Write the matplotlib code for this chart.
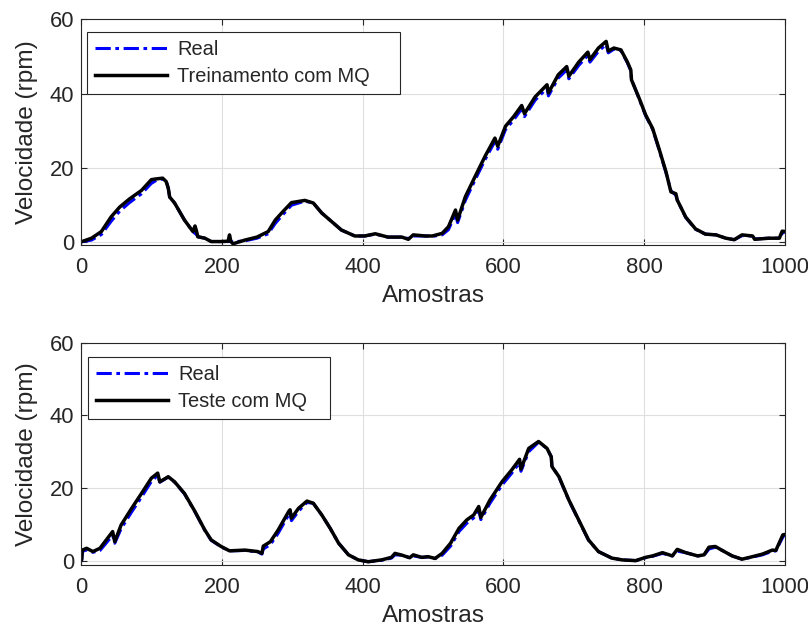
import matplotlib
matplotlib.use("Agg")
import matplotlib.pyplot as plt

plt.rcParams['font.family'] = ['Liberation Sans', 'DejaVu Sans']

COR_TEXTO = '#262626'

# --- treinamento (amostras 0..1000) ---
amostras_trein = [0, 15, 29, 43, 55, 69, 86, 100, 107, 116,
                  121, 124, 126, 133, 147, 159, 162, 164, 166, 176,
                  185, 199, 209, 211, 213, 216, 233, 250, 266, 276,
                  287, 299, 318, 330, 342, 356, 370, 389, 403, 418,
                  436, 456, 465, 472, 489, 499, 513, 522, 532, 535,
                  546, 560, 574, 588, 592, 603, 615, 626, 630, 645,
                  662, 664, 678, 690, 693, 707, 720, 723, 735, 746,
                  749, 757, 767, 776, 781, 782, 793, 802, 812, 821,
                  831, 838, 845, 847, 859, 873, 887, 902, 916, 928,
                  939, 954, 957, 977, 992, 996, 1000]

real_trein = [0.0, 0.5, 2.0, 5.6, 8.3, 10.6, 13.0, 15.8, 16.6, 17.0,
              16.5, 14.5, 12.1, 10.5, 5.9, 2.8, 2.3, 2.0, 1.4, 1.0,
              0.1, 0.1, 0.1, 0.1, 0.1, 0.0, 0.3, 1.0, 2.2, 5.0,
              7.4, 9.9, 11.0, 10.5, 7.8, 5.5, 3.2, 1.6, 1.6, 2.1,
              1.3, 1.3, 0.9, 1.6, 1.6, 1.5, 1.9, 3.3, 7.6, 5.2,
              11.2, 16.8, 22.2, 27.1, 25.0, 30.3, 33.0, 35.9, 33.8, 38.2,
              41.5, 39.4, 44.2, 46.4, 44.0, 47.6, 50.3, 48.5, 51.4, 53.3,
              51.0, 52.0, 51.6, 48.4, 46.2, 43.9, 38.5, 34.1, 30.4, 25.0,
              18.7, 13.8, 12.6, 11.3, 6.6, 3.4, 2.1, 1.9, 1.0, 0.6,
              1.7, 1.6, 0.8, 1.0, 1.0, 2.3, 2.8]

mq_trein = [0.0, 1.0, 2.8, 6.8, 9.4, 11.6, 13.9, 16.8, 17.0, 17.2,
            16.3, 14.5, 12.1, 10.5, 5.9, 2.8, 4.3, 3.0, 1.4, 1.0,
            0.1, 0.1, 0.2, 1.9, 0.1, -0.5, 0.5, 1.3, 2.8, 5.9,
            8.2, 10.6, 11.2, 10.5, 7.8, 5.5, 3.2, 1.6, 1.6, 2.2,
            1.3, 1.3, 0.7, 1.9, 1.6, 1.6, 2.3, 4.1, 8.6, 5.9,
            12.2, 17.7, 23.1, 28.0, 25.8, 31.2, 33.9, 36.8, 34.6, 39.1,
            42.4, 40.2, 45.1, 47.3, 44.7, 48.5, 51.2, 49.2, 52.3, 54.1,
            51.5, 52.3, 51.8, 48.6, 46.4, 43.7, 38.7, 34.3, 30.6, 25.2,
            18.9, 13.5, 13.0, 11.3, 6.7, 3.5, 2.1, 1.9, 1.0, 0.6,
            1.9, 1.6, 0.7, 1.0, 1.0, 2.9, 2.8]

# --- teste (amostras 0..1000) ---
amostras_teste = [0, 1, 2, 8, 17, 27, 34, 45, 48, 57,
                  72, 86, 100, 109, 112, 124, 133, 147, 162, 176,
                  185, 199, 211, 233, 251, 257, 259, 269, 280, 295,
                  297, 299, 309, 321, 330, 342, 354, 366, 380, 394,
                  408, 427, 441, 446, 456, 467, 472, 484, 493, 503,
                  513, 525, 537, 548, 558, 565, 568, 581, 598, 612,
                  623, 625, 636, 650, 662, 668, 669, 679, 693, 707,
                  721, 735, 754, 769, 788, 802, 812, 826, 840, 847,
                  859, 876, 885, 892, 901, 911, 925, 939, 954, 968,
                  982, 987, 997, 1000]

real_teste = [0.0, 0.1, 2.5, 3.0, 2.3, 2.8, 4.4, 7.0, 4.8, 8.8,
              13.4, 17.5, 21.8, 23.5, 21.6, 23.0, 21.6, 18.4, 13.4, 8.3,
              5.6, 3.8, 2.7, 2.8, 2.4, 1.8, 3.2, 4.4, 7.5, 12.6,
              13.1, 11.0, 13.6, 16.0, 15.8, 12.6, 8.9, 4.8, 1.6, 0.2,
              -0.3, 0.1, 0.7, 1.6, 1.5, 0.8, 1.3, 0.9, 1.0, 0.6,
              1.5, 4.0, 8.0, 10.3, 11.8, 14.0, 11.3, 15.8, 20.8, 24.1,
              27.0, 24.6, 30.0, 32.6, 30.9, 28.6, 26.0, 23.0, 16.6, 11.1,
              5.6, 2.5, 0.7, 0.2, 0.0, 0.8, 1.2, 2.0, 1.3, 2.6,
              2.2, 1.3, 1.5, 3.2, 3.7, 2.8, 1.3, 0.4, 1.0, 1.6,
              2.6, 2.7, 6.5, 7.2]

mq_teste = [0.0, 0.2, 2.9, 3.4, 2.5, 3.4, 5.2, 8.0, 5.2, 9.8,
            14.4, 18.5, 22.7, 24.1, 21.7, 23.1, 21.7, 18.5, 13.5, 8.4,
            5.7, 3.9, 2.7, 2.9, 2.5, 2.0, 4.0, 5.2, 8.4, 13.5,
            14.0, 11.7, 14.4, 16.4, 15.8, 12.6, 8.9, 4.8, 1.6, 0.2,
            -0.3, 0.2, 0.9, 2.0, 1.5, 0.8, 1.6, 0.9, 1.1, 0.6,
            2.0, 4.8, 8.9, 11.2, 12.6, 14.9, 11.9, 16.7, 21.7, 25.0,
            27.9, 25.2, 30.9, 32.8, 30.9, 28.6, 25.9, 23.1, 16.7, 11.2,
            5.7, 2.5, 0.7, 0.2, 0.0, 0.9, 1.3, 2.2, 1.3, 3.1,
            2.2, 1.3, 1.6, 3.7, 3.9, 2.8, 1.3, 0.4, 1.1, 1.8,
            2.9, 2.8, 7.1, 7.2]


def estilo(ax, y_min):
    ax.set_xlim(0, 1000)
    ax.set_ylim(y_min, 60)
    ax.set_xticks([0, 200, 400, 600, 800, 1000])
    ax.set_yticks([0, 20, 40, 60])
    ax.grid(True, color='#dfdfdf', linewidth=0.8)
    ax.set_axisbelow(True)
    ax.tick_params(direction='in', length=4.5, width=0.8, top=True, right=True,
                   labelsize=15.8, colors=COR_TEXTO)
    ax.tick_params(axis='x', pad=9)
    ax.tick_params(axis='y', pad=5)
    for s in ax.spines.values():
        s.set_color(COR_TEXTO)
        s.set_linewidth(0.8)
    ax.set_xlabel('Amostras', fontsize=17.6, color=COR_TEXTO, labelpad=5)
    ax.set_ylabel('Velocidade (rpm)', fontsize=17.6, color=COR_TEXTO, labelpad=8)


fig = plt.figure(figsize=(8.08, 6.31), dpi=100)
ax1 = fig.add_axes([0.1002, 0.6125, 0.8713, 0.3566])
ax2 = fig.add_axes([0.1002, 0.1046, 0.8713, 0.3523])

ax1.plot(amostras_trein, real_trein, color='blue', linestyle='-.', linewidth=2.2,
         dashes=(5, 1.5, 1.2, 1.5), label='Real')
ax1.plot(amostras_trein, mq_trein, color='black', linewidth=2.5,
         label='Treinamento com MQ')
estilo(ax1, -0.7)

ax2.plot(amostras_teste, real_teste, color='blue', linestyle='-.', linewidth=2.2,
         dashes=(5, 1.5, 1.2, 1.5), label='Real')
ax2.plot(amostras_teste, mq_teste, color='black', linewidth=2.5,
         label='Teste com MQ')
estilo(ax2, -1.2)

# legendas no canto superior esquerdo, caixa com largura fixa
for ax, caixa in [(ax1, (0.0085, 0.38, 0.445, 0.565)), (ax2, (0.01, 0.39, 0.344, 0.545))]:
    leg = ax.legend(loc='upper left', bbox_to_anchor=caixa, mode='expand',
                    borderaxespad=0, fontsize=14.4, handlelength=3.6,
                    handletextpad=0.5, labelspacing=0.4, borderpad=0.4,
                    fancybox=False, framealpha=1, edgecolor=COR_TEXTO)
    leg.get_frame().set_linewidth(0.8)
    for t in leg.get_texts():
        t.set_color(COR_TEXTO)

fig.savefig('out.png', dpi=100)
